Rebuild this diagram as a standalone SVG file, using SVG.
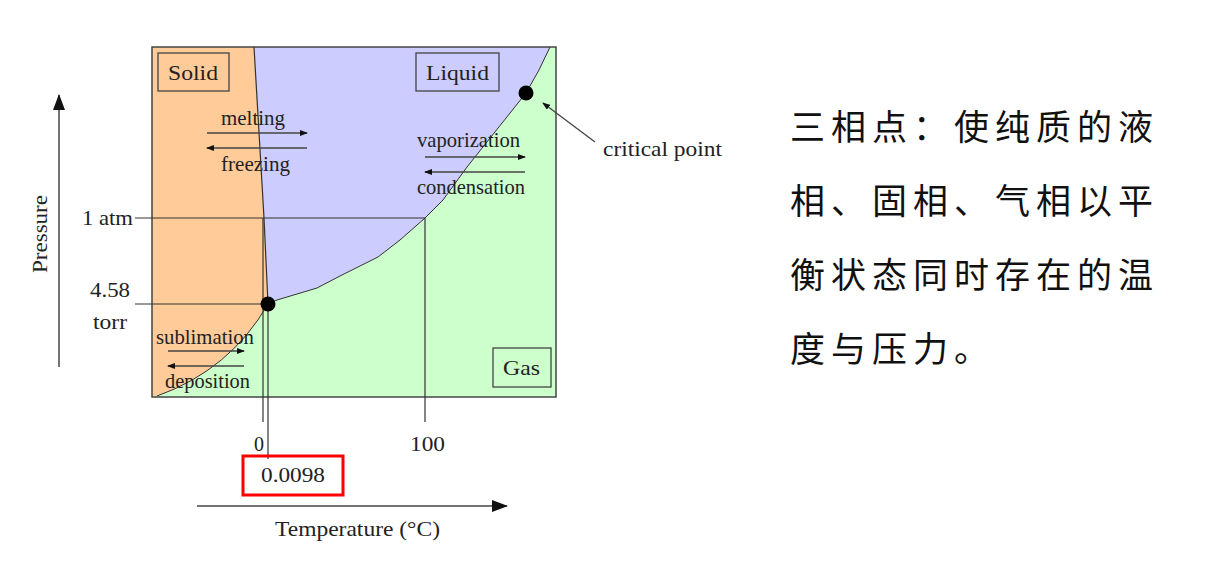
<svg xmlns="http://www.w3.org/2000/svg" width="1208" height="564" viewBox="0 0 1208 564">
<style>
.t{font-family:"Liberation Serif",serif;font-size:21px;fill:#222}
.ln{stroke:#333;stroke-width:1.2;fill:none}
.ar{stroke:#444;stroke-width:1.3;fill:none}
.bx{fill:none;stroke:#444;stroke-width:1.3}
.cn{font-family:"Noto Sans CJK SC",sans-serif;font-size:35px;fill:#111;letter-spacing:6px}
</style>
<defs>
<marker id="ahs" markerWidth="8" markerHeight="6" refX="7" refY="3" orient="auto" markerUnits="userSpaceOnUse">
<path d="M0,0 L8,3 L0,6 Z" fill="#111"/>
</marker>
<marker id="ahb" markerWidth="16" markerHeight="12" refX="15" refY="6" orient="auto" markerUnits="userSpaceOnUse">
<path d="M0,0 L16,6 L0,12 Z" fill="#111"/>
</marker>
</defs>
<g id="regions">
<rect x="152" y="47" width="404" height="350" fill="#CCFFCC"/>
<path d="M152,47 L550,47 Q540,70 526,93 L467,167 L443,200 L425,218 L400,240 L378,257 L340,276 L317,288 L277,300 L268,304 Q230,370 157,396 L152,396 Z" fill="#CCCCFF"/>
<path d="M152,47 L254,47 L264,218 L268,304 Q230,370 157,396 L152,396 Z" fill="#FFCC99"/>
<path d="M254,47 L264,218 L268,304" class="ln"/>
<path d="M268,304 L277,300 L317,288 L340,276 L378,257 L400,240 L425,218 L443,200 L467,167 L526,93 Q540,70 550,47" fill="none" stroke="#333" stroke-width="1"/>
<path d="M268,304 Q230,370 157,396" fill="none" stroke="#333" stroke-width="1"/>
<rect x="152" y="47" width="404" height="350" fill="none" stroke="#444" stroke-width="1.5"/>
</g>
<g id="connectors">
<line x1="135" y1="218" x2="425" y2="218" class="ln"/>
<line x1="425" y1="218" x2="425" y2="422" class="ln"/>
<line x1="135" y1="304" x2="268" y2="304" class="ln"/>
<line x1="263" y1="218" x2="263" y2="422" class="ln"/>
<line x1="268" y1="304" x2="268" y2="459" class="ln"/>
<line x1="207" y1="133" x2="307" y2="133" class="ar" marker-end="url(#ahs)"/>
<line x1="307" y1="148" x2="207" y2="148" class="ar" marker-end="url(#ahs)"/>
<line x1="425" y1="157" x2="525" y2="157" class="ar" marker-end="url(#ahs)"/>
<line x1="525" y1="172" x2="425" y2="172" class="ar" marker-end="url(#ahs)"/>
<line x1="168" y1="351" x2="244" y2="351" class="ar" marker-end="url(#ahs)"/>
<line x1="244" y1="366" x2="168" y2="366" class="ar" marker-end="url(#ahs)"/>
<line x1="595" y1="142" x2="543" y2="103" class="ar" marker-end="url(#ahs)"/>
<line x1="197" y1="506" x2="507" y2="506" stroke="#444" stroke-width="1.5" marker-end="url(#ahb)"/>
<line x1="59" y1="367" x2="59" y2="95" stroke="#444" stroke-width="1.5" marker-end="url(#ahb)"/>
</g>
<g id="points">
<circle cx="268" cy="304" r="7.5" fill="#000"/>
<circle cx="526" cy="93" r="7.5" fill="#000"/>
</g>
<g id="solid"><rect x="158" y="53" width="71" height="38" class="bx"/><text x="168" y="80" class="t" textLength="50" lengthAdjust="spacingAndGlyphs">Solid</text></g>
<g id="liquid"><rect x="416" y="53" width="83" height="38" class="bx"/><text x="426" y="80" class="t" textLength="63" lengthAdjust="spacingAndGlyphs">Liquid</text></g>
<g id="gas"><rect x="493" y="348" width="58" height="39" class="bx"/><text x="503" y="375" class="t" textLength="37" lengthAdjust="spacingAndGlyphs">Gas</text></g>
<g id="labels">
<text x="221" y="125" class="t" textLength="64" lengthAdjust="spacingAndGlyphs">melting</text>
<text x="221" y="171" class="t" textLength="69" lengthAdjust="spacingAndGlyphs">freezing</text>
<text x="417" y="147" class="t" textLength="103" lengthAdjust="spacingAndGlyphs">vaporization</text>
<text x="417" y="194" class="t" textLength="108" lengthAdjust="spacingAndGlyphs">condensation</text>
<text x="156" y="344" class="t" textLength="98" lengthAdjust="spacingAndGlyphs">sublimation</text>
<text x="165" y="388" class="t" textLength="85" lengthAdjust="spacingAndGlyphs">deposition</text>
<text x="603" y="156" class="t" textLength="119" lengthAdjust="spacingAndGlyphs">critical point</text>
<text x="82" y="225" class="t" textLength="51" lengthAdjust="spacingAndGlyphs">1 atm</text>
<text x="90" y="297" class="t" textLength="40" lengthAdjust="spacingAndGlyphs">4.58</text>
<text x="93" y="329" class="t" textLength="34" lengthAdjust="spacingAndGlyphs">torr</text>
<text x="254" y="451" class="t" textLength="10" lengthAdjust="spacingAndGlyphs">0</text>
<text x="410" y="451" class="t" textLength="35" lengthAdjust="spacingAndGlyphs">100</text>
<text x="261" y="482" class="t" textLength="64" lengthAdjust="spacingAndGlyphs">0.0098</text>
<text x="275" y="536" class="t" textLength="165" lengthAdjust="spacingAndGlyphs">Temperature (°C)</text>
<text x="0" y="0" class="t" textLength="78" lengthAdjust="spacingAndGlyphs" transform="translate(47,273) rotate(-90)">Pressure</text>
</g>
<g id="highlight"><rect x="243" y="456" width="100" height="39" fill="none" stroke="#F00" stroke-width="3"/></g>
<g id="note">
<text x="790" y="140" class="cn">三相点：使纯质的液</text>
<text x="790" y="214" class="cn">相、固相、气相以平</text>
<text x="790" y="288" class="cn">衡状态同时存在的温</text>
<text x="790" y="362" class="cn">度与压力。</text>
</g>
</svg>
